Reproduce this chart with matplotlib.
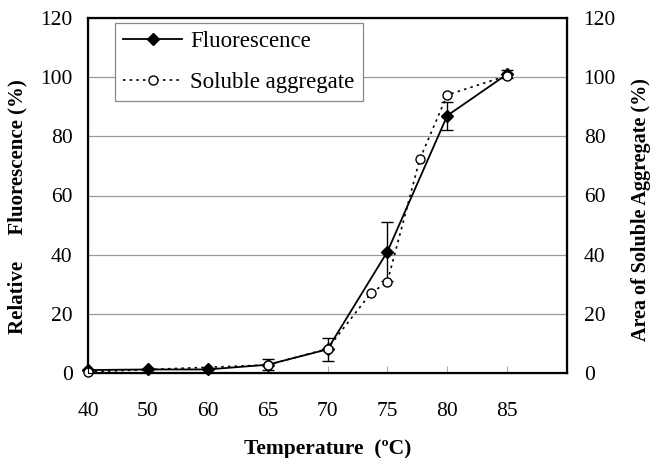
import numpy as np
import matplotlib
matplotlib.use("Agg")
import matplotlib.pyplot as plt
from matplotlib.lines import Line2D

# ---- data ----
tick_temps = [40, 50, 60, 65, 70, 75, 80, 85]
fluor_temp = [40, 50, 60, 65, 70, 75, 80, 85]
fluor_val = [1.0, 1.2, 1.2, 2.8, 8.0, 41.0, 87.0, 101.0]
fluor_err = [0.0, 0.0, 0.0, 1.8, 3.8, 9.9, 4.7, 1.4]
agg_temp = [40, 65, 70, 73.6, 75, 77.7, 80, 85]
agg_val = [0.4, 2.7, 8.2, 26.9, 30.8, 72.2, 94.0, 100.5]
y_ticks = [0, 20, 40, 60, 80, 100, 120]

# categorical-like temperature scale (equal spacing between listed ticks)
scale_t = tick_temps + [90]
scale_p = list(range(len(scale_t)))

def fwd(t):
    return np.interp(t, scale_t, scale_p)

def inv(p):
    return np.interp(p, scale_p, scale_t)

plt.rcParams['font.family'] = ['Liberation Serif', 'DejaVu Serif']

fig = plt.figure(figsize=(6.53, 4.58), dpi=100)
ax = fig.add_subplot(111)
fig.subplots_adjust(left=88/653, right=567/653, top=1-18/458, bottom=1-373/458)

ax.set_xscale('function', functions=(fwd, inv))
ax.set_xlim(40, 90)
ax.set_ylim(0, 120)

for y in y_ticks[1:-1]:
    ax.axhline(y, color='#9a9a9a', lw=0.9, zorder=0)

ax.errorbar(fluor_temp, fluor_val, yerr=fluor_err, color='black', lw=1.3,
            marker='D', ms=6, mfc='black', mec='black', capsize=4, capthick=1,
            elinewidth=1, zorder=3, clip_on=False)
ax.plot(agg_temp, agg_val, color='black', lw=1.2, ls=(0, (1.5, 2.5)),
        marker='o', ms=6.5, mfc='white', mec='black', mew=1,
        zorder=4, clip_on=False)

ax.set_xticks(tick_temps)
ax.set_xticklabels([str(t) for t in tick_temps])
ax.xaxis.set_minor_locator(matplotlib.ticker.NullLocator())
ax.tick_params(axis='x', direction='in', length=5, color='#aaaaaa', pad=21, labelsize=15.5)
ax.set_yticks(y_ticks)
ax.tick_params(axis='y', length=0, pad=11, labelsize=15.5)

for s in ax.spines.values():
    s.set_linewidth(1.6)

ax2 = ax.twinx()
ax2.set_ylim(0, 120)
ax2.set_yticks(y_ticks)
ax2.tick_params(axis='y', length=0, pad=12, labelsize=15.5)

ax.set_xlabel('Temperature  (ºC)', fontsize=15.5, fontweight='bold', labelpad=12.5)
ax.set_ylabel('Relative     Fluorescence (%)', fontsize=15, fontweight='bold', labelpad=9)
ax.yaxis.label.set_y(0.47)
ax2.set_ylabel('Area of Soluble Aggregate (%)', fontsize=14.5, fontweight='bold', labelpad=11)
ax2.yaxis.label.set_y(0.46)

handles = [
    Line2D([], [], color='black', lw=1.3, marker='D', ms=6, mfc='black'),
    Line2D([], [], color='black', lw=1.2, ls=(0, (1.5, 2.5)), marker='o', ms=6.5,
           mfc='white', mec='black'),
]
leg = ax.legend(handles, ['Fluorescence', 'Soluble aggregate'],
                loc='upper left', bbox_to_anchor=(0.056, 0.986), borderaxespad=0,
                fontsize=16.5, frameon=True, fancybox=False, edgecolor='#888888',
                framealpha=1, labelspacing=0.85, handlelength=2.6, handletextpad=0.35,
                borderpad=0.35)
leg.get_frame().set_linewidth(0.9)

fig.savefig('out.png', dpi=100)
